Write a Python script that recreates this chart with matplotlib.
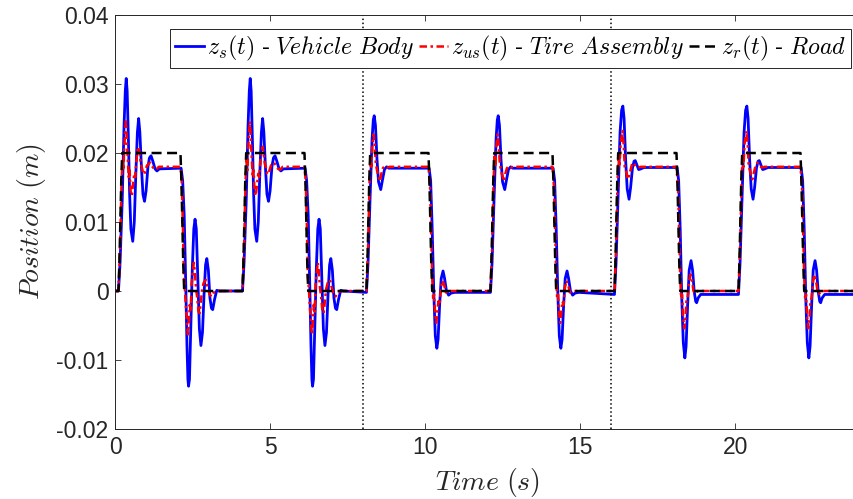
import numpy as np
import matplotlib
matplotlib.use("Agg")
import matplotlib.pyplot as plt

plt.rcParams["mathtext.fontset"] = "cm"
plt.rcParams["font.family"] = ["Liberation Sans", "DejaVu Sans"]

# Road profile over one 4 s cycle: (time offset [s], height [m])
road_cycle = [(0.00, 0.0), (0.10, 0.0), (0.13, 0.004), (0.16, 0.010), (0.19, 0.016),
              (0.22, 0.020), (2.10, 0.020), (2.13, 0.016), (2.16, 0.010),
              (2.19, 0.004), (2.22, 0.0), (4.00, 0.0)]
cycle_starts = [0, 4, 8, 12, 16, 20]
t_end = 24.0

# Vehicle body response (time offset from edge [s], z_s [m])
# Regime A: 0-8 s, B: 8-16 s, C: 16-24 s
body_rise_a = [(0.10, 0.0), (0.15, 0.004), (0.22, 0.013), (0.28, 0.024), (0.32, 0.029),
               (0.35, 0.0308), (0.38, 0.029), (0.42, 0.022), (0.46, 0.014), (0.50, 0.009),
               (0.56, 0.0072), (0.61, 0.010), (0.66, 0.017), (0.71, 0.023), (0.75, 0.0250),
               (0.79, 0.023), (0.84, 0.018), (0.89, 0.014), (0.94, 0.0130), (0.99, 0.0145),
               (1.05, 0.0180), (1.10, 0.0193), (1.15, 0.0196), (1.21, 0.0188), (1.28, 0.0177),
               (1.34, 0.0174), (1.42, 0.0177)]
body_fall_a = [(0.12, 0.0178), (0.17, 0.0160), (0.22, 0.011), (0.27, 0.001), (0.31, -0.008),
               (0.34, -0.0128), (0.36, -0.0138), (0.39, -0.0128), (0.43, -0.006), (0.48, 0.003),
               (0.53, 0.0090), (0.57, 0.0104), (0.61, 0.009), (0.66, 0.002), (0.71, -0.0055),
               (0.76, -0.0079), (0.81, -0.006), (0.86, -0.0005), (0.91, 0.0038), (0.95, 0.0047),
               (1.00, 0.003), (1.05, -0.0010), (1.10, -0.0025), (1.14, -0.0027), (1.20, -0.0012),
               (1.27, 0.0001), (1.35, 0.0)]
body_rise_b = [(0.10, -0.0002), (0.15, 0.004), (0.22, 0.014), (0.28, 0.022), (0.32, 0.0248),
               (0.35, 0.0254), (0.39, 0.024), (0.44, 0.019), (0.49, 0.0158), (0.56, 0.0147),
               (0.62, 0.0162), (0.68, 0.0176), (0.75, 0.0180), (0.82, 0.0178)]
body_fall_b = [(0.12, 0.0178), (0.17, 0.0160), (0.22, 0.009), (0.27, 0.000), (0.32, -0.0065),
               (0.37, -0.0083), (0.41, -0.007), (0.46, -0.002), (0.51, 0.0018), (0.57, 0.0029),
               (0.62, 0.0018), (0.68, 0.0000), (0.75, -0.0006), (0.83, -0.0003), (0.95, -0.0002)]
body_rise_c = [(0.10, -0.0005), (0.15, 0.004), (0.22, 0.014), (0.28, 0.023), (0.33, 0.0262),
               (0.37, 0.0268), (0.41, 0.025), (0.46, 0.019), (0.51, 0.0148), (0.57, 0.0133),
               (0.62, 0.0150), (0.68, 0.0178), (0.73, 0.0188), (0.77, 0.0189), (0.82, 0.0183),
               (0.88, 0.0176), (0.95, 0.0177), (1.05, 0.0179)]
body_fall_c = [(0.12, 0.0179), (0.17, 0.0160), (0.22, 0.009), (0.27, -0.001), (0.32, -0.0075),
               (0.37, -0.0097), (0.41, -0.008), (0.46, -0.002), (0.51, 0.003), (0.57, 0.0044),
               (0.62, 0.0030), (0.67, 0.0000), (0.72, -0.0015), (0.75, -0.0017), (0.80, -0.0010),
               (0.88, -0.0005), (1.00, -0.0005)]

# Tire assembly response (time offset from edge [s], z_us [m])
tire_rise_a = [(0.10, 0.0), (0.15, 0.006), (0.20, 0.016), (0.23, 0.019), (0.26, 0.0175),
               (0.29, 0.021), (0.32, 0.0235), (0.34, 0.0246), (0.37, 0.022), (0.40, 0.0195),
               (0.43, 0.0165), (0.46, 0.0175), (0.49, 0.0145), (0.53, 0.0138), (0.57, 0.0155),
               (0.61, 0.0170), (0.64, 0.0165), (0.68, 0.019), (0.72, 0.0205), (0.75, 0.0209),
               (0.78, 0.0200), (0.82, 0.0185), (0.86, 0.0178), (0.90, 0.0170), (0.93, 0.0169),
               (0.97, 0.0175), (1.02, 0.0182), (1.07, 0.0184), (1.12, 0.0186), (1.18, 0.0181),
               (1.25, 0.0177), (1.32, 0.0176), (1.40, 0.0180)]
tire_fall_a = [(0.10, 0.0180), (0.14, 0.016), (0.18, 0.009), (0.21, 0.002), (0.24, 0.0005),
               (0.27, -0.002), (0.30, -0.004), (0.34, -0.0063), (0.37, -0.005), (0.40, -0.002),
               (0.43, -0.003), (0.46, 0.001), (0.50, 0.003), (0.53, 0.0041), (0.56, 0.003),
               (0.60, 0.0005), (0.64, -0.001), (0.68, -0.003), (0.72, -0.0032), (0.76, -0.0015),
               (0.80, 0.0003), (0.85, 0.0012), (0.92, 0.0016), (0.98, 0.0005), (1.04, -0.0005),
               (1.10, -0.0008), (1.18, -0.0002), (1.30, 0.0)]
tire_rise_b = [(0.10, 0.0), (0.15, 0.006), (0.20, 0.016), (0.23, 0.0195), (0.26, 0.018),
               (0.29, 0.021), (0.33, 0.0227), (0.37, 0.021), (0.40, 0.0185), (0.44, 0.0175),
               (0.48, 0.0168), (0.53, 0.0159), (0.58, 0.0170), (0.63, 0.0178), (0.69, 0.0181),
               (0.76, 0.0179), (0.85, 0.0180)]
tire_fall_b = [(0.10, 0.0180), (0.15, 0.015), (0.19, 0.008), (0.22, 0.002), (0.25, -0.001),
               (0.28, -0.0005), (0.31, -0.003), (0.35, -0.0046), (0.39, -0.003), (0.42, -0.0015),
               (0.46, -0.002), (0.50, 0.0005), (0.55, 0.0015), (0.60, 0.0010), (0.66, -0.0002),
               (0.75, 0.0), (0.85, 0.0)]
tire_rise_c = [(0.10, 0.0), (0.15, 0.006), (0.20, 0.016), (0.23, 0.0195), (0.26, 0.018),
               (0.30, 0.0215), (0.36, 0.0232), (0.40, 0.021), (0.43, 0.018), (0.47, 0.0175),
               (0.51, 0.0165), (0.55, 0.0162), (0.60, 0.0172), (0.66, 0.0183), (0.72, 0.0186),
               (0.78, 0.0181), (0.86, 0.0179), (0.95, 0.0180)]
tire_fall_c = [(0.10, 0.0180), (0.15, 0.015), (0.19, 0.008), (0.22, 0.002), (0.25, -0.001),
               (0.28, -0.0005), (0.31, -0.0035), (0.35, -0.0054), (0.39, -0.004), (0.42, -0.0015),
               (0.46, -0.001), (0.51, 0.0015), (0.55, 0.0024), (0.60, 0.0015), (0.65, 0.0),
               (0.70, -0.0004), (0.78, 0.0), (0.90, 0.0)]

body_segments = {0: (body_rise_a, body_fall_a), 4: (body_rise_a, body_fall_a),
                 8: (body_rise_b, body_fall_b), 12: (body_rise_b, body_fall_b),
                 16: (body_rise_c, body_fall_c), 20: (body_rise_c, body_fall_c)}
tire_segments = {0: (tire_rise_a, tire_fall_a), 4: (tire_rise_a, tire_fall_a),
                 8: (tire_rise_b, tire_fall_b), 12: (tire_rise_b, tire_fall_b),
                 16: (tire_rise_c, tire_fall_c), 20: (tire_rise_c, tire_fall_c)}

xticks = [0, 5, 10, 15, 20]
yticks = [-0.02, -0.01, 0, 0.01, 0.02, 0.03, 0.04]
ytick_labels = ["-0.02", "-0.01", "0", "0.01", "0.02", "0.03", "0.04"]
regime_marks = [8, 16]
series_labels = [r"$z_s(t)$ - $Vehicle\ Body$",
                 r"$z_{us}(t)$ - $Tire\ Assembly$",
                 r"$z_r(t)$ - $Road$"]


def assemble(segments):
    pts = [(0.0, 0.0)]
    for start in cycle_starts:
        rise, fall = segments[start]
        pts += [(start + dt, z) for dt, z in rise]
        pts += [(start + 2.0 + dt, z) for dt, z in fall]
    pts.append((t_end, pts[-1][1]))
    arr = np.array(pts)
    return arr[:, 0], arr[:, 1]


t_s, z_s = assemble(body_segments)
t_us, z_us = assemble(tire_segments)
road = np.array([(s + dt, z) for s in cycle_starts for dt, z in road_cycle])
t_r, z_r = road[:, 0], road[:, 1]

fig = plt.figure(figsize=(8.54, 4.99), dpi=100)
ax = fig.add_axes([0.1351, 0.1403, 0.8712, 0.8296])

ax.plot(t_s, z_s, color=(0, 0, 1), lw=2.0, label=series_labels[0])
ax.plot(t_us, z_us, color=(1, 0, 0), lw=1.8, dashes=(3, 1.4, 1, 1.4), label=series_labels[1])
ax.plot(t_r, z_r, color="k", lw=1.8, dashes=(4, 2.2), label=series_labels[2])
for xm in regime_marks:
    ax.axvline(xm, color="k", ls=":", lw=1.1)

ax.set_xlim(0, 24)
ax.set_ylim(-0.02, 0.04)
ax.set_xticks(xticks)
ax.set_yticks(yticks)
ax.set_yticklabels(ytick_labels)
ax.tick_params(direction="in", top=True, right=True, length=4, width=0.6,
               labelsize=16.5, colors="#262626", pad=5)
for sp in ax.spines.values():
    sp.set_linewidth(0.7)
    sp.set_color("#262626")

ax.set_xlabel(r"$Time\ (s)$", fontsize=20, labelpad=5, color="#262626")
ax.set_ylabel(r"$Position\ (m)$", fontsize=20, labelpad=6, color="#262626")

leg = ax.legend(loc="upper right", ncol=3, fontsize=17.2, handlelength=1.2,
                handletextpad=0.15, columnspacing=0.2, borderpad=0.2,
                borderaxespad=0, fancybox=False, framealpha=1, edgecolor="#262626",
                bbox_to_anchor=(0.9965, 0.942), bbox_transform=fig.transFigure)
leg.get_frame().set_linewidth(0.7)

fig.savefig("out.png", dpi=100)
